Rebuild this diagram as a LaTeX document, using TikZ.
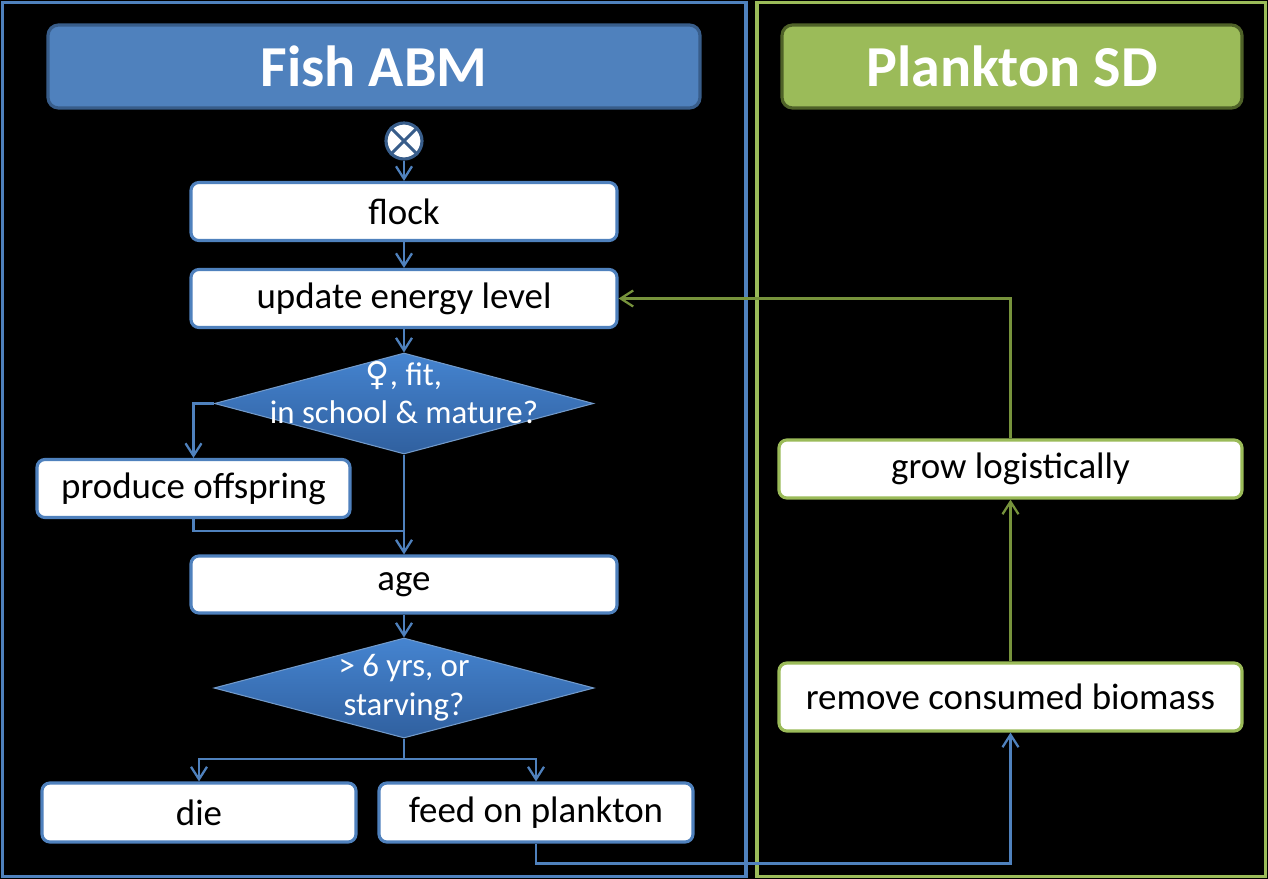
\documentclass[tikz,border=0pt]{standalone}
\usepackage{fontspec}
\setmainfont{Carlito}
\newfontfamily\symfont{DejaVu Sans}
\usetikzlibrary{positioning,arrows.meta,calc,shapes.geometric}
\definecolor{fishblue}{HTML}{4F81BD}
\definecolor{fishdark}{HTML}{385D8A}
\definecolor{planktongreen}{HTML}{9BBB59}
\definecolor{planktondark}{HTML}{4F6228}
\definecolor{flowgreen}{HTML}{77933C}
\definecolor{difftop}{HTML}{4584D0}
\definecolor{diffbot}{HTML}{30609F}

\begin{document}
\begin{tikzpicture}[
    font=\fontsize{21}{25}\selectfont,
    box/.style={draw=fishblue,fill=white,line width=1.8pt,rounded corners=4.5pt,
                inner sep=0pt,align=center,minimum width=8.52cm,minimum height=1.16cm},
    gbox/.style={box,draw=planktongreen,minimum width=9.26cm},
    head/.style={draw=fishdark,fill=fishblue,line width=1.8pt,rounded corners=6pt,
                 minimum height=1.66cm,text=white,font=\fontsize{33}{40}\selectfont\bfseries},
    decision/.style={diamond,draw=fishblue!80!white,line width=0.6pt,top color=difftop,
                     bottom color=diffbot,inner sep=0pt,minimum width=7.58cm,minimum height=2.02cm},
    dtext/.style={text=white,align=center,font=\fontsize{18.7}{22}\selectfont},
    flow/.style={-{Straight Barb[length=2.5mm,width=3.2mm]},draw=fishblue,line width=1.3pt},
    gflow/.style={flow,draw=flowgreen},
    panel/.style={line width=2.2pt}
  ]

  \useasboundingbox (0,0) rectangle (25.36,-17.58);
  \fill[black] (0,0) rectangle (25.36,-17.58);

  % the two panels
  \draw[panel,fishblue] (0.05,-0.05) rectangle (14.92,-17.53);
  \draw[panel,planktongreen] (15.14,-0.05) rectangle (25.31,-17.53);

  \node[head,minimum width=13.04cm] (fishhead) at (7.48,-1.33) {Fish ABM};
  \node[head,draw=planktondark,fill=planktongreen,minimum width=9.2cm]
       (planktonhead) at (20.24,-1.33) {Plankton SD};

  % fish schedule
  \node[circle,draw=fishdark,fill=white,line width=1.8pt,minimum size=0.72cm,inner sep=0pt]
       (start) at (8.08,-2.82) {};
  \draw[fishdark,line width=1.8pt] (start.north west) -- (start.south east)
                                   (start.north east) -- (start.south west);

  \node[box] (flock)  at (8.08,-4.23)  {flock};
  \node[box] (update) at (8.08,-5.97)  {update energy level};
  \node[decision] (mate) at (8.08,-8.07) {};
  \node[dtext,yshift=0.22cm] (matetext) at (mate) {{\symfont ♀}, fit,\\in school \& mature?};
  \node[box,minimum width=6.26cm] (offspring) at (3.87,-9.77) {produce offspring};
  \node[box,minimum height=1.14cm] (age) at (8.08,-11.69) {age};
  \node[decision,minimum width=7.6cm,minimum height=2cm] (old) at (8.08,-13.76) {};
  \node[dtext] (oldtext) at (old) {> 6 yrs, or\\starving?};
  \node[box,minimum width=6.28cm,minimum height=1.18cm] (die)  at (3.98,-16.25)  {die};
  \node[box,minimum width=6.28cm,minimum height=1.18cm] (feed) at (10.72,-16.25) {feed on plankton};

  % plankton model
  \node[gbox] (grow)   at (20.21,-9.38)  {grow logistically};
  \node[gbox,minimum height=1.36cm] (remove) at (20.21,-13.94) {remove consumed biomass};

  \coordinate (join)  at (8.08,-10.62);
  \coordinate (split) at (8.08,-15.18);

  \draw[flow] (start) -- (flock);
  \draw[flow] (flock) -- (update);
  \draw[flow] (update) -- (mate.north);
  \draw[flow] (mate.west) -| (offspring.north);
  \draw[flow,-] (offspring.south) |- (join);
  \draw[flow] (mate.south) -- (age.north);
  \draw[flow] (age) -- (old.north);
  \draw[flow,-] (old.south) -- (split);
  \draw[flow] (split) -| (die.north);
  \draw[flow] (split) -| (feed.north);

  \draw[flow] (feed.south) -- ++(0,-0.4) -| (remove.south);
  \draw[gflow] (remove) -- (grow);
  \draw[gflow] (grow.north) |- (update.east);

\end{tikzpicture}
\end{document}
